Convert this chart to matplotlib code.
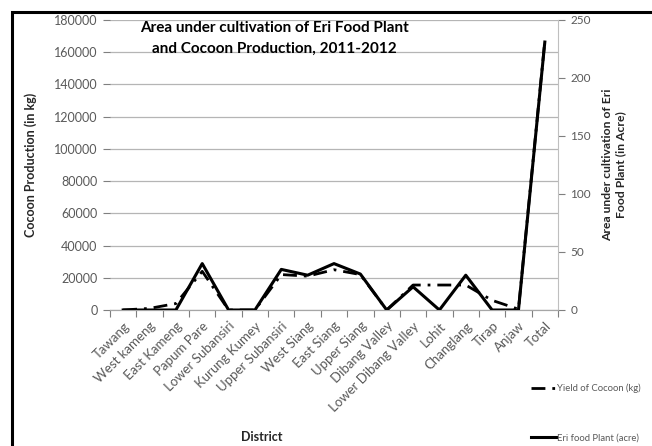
import matplotlib
matplotlib.use("Agg")
import matplotlib.pyplot as plt
import numpy as np
from matplotlib.patches import Rectangle

plt.rcParams['font.family'] = ['Lato', 'DejaVu Sans']

# --- data
districts = [
    "Tawang", "West kameng", "East Kameng", "Papum Pare", "Lower Subansiri",
    "Kurung Kumey", "Upper Subansiri", "West Siang", "East Siang", "Upper Siang",
    "Dibang Valley", "Lower Dibang Valley", "Lohit", "Changlang", "Tirap",
    "Anjaw", "Total",
]
cocoon_kg = [0, 1000, 4000, 24000, 0, 0, 22000, 21000, 25000, 22000,
             0, 15500, 15500, 15500, 6000, 500, 167000]
eri_acre = [0, 0, 0, 40, 0, 0, 35, 30, 40, 31, 0, 20, 0, 30, 0, 0, 231]

W, H, DPI = 652, 446, 100
fig = plt.figure(figsize=(W / DPI, H / DPI), dpi=DPI)
ax = fig.add_axes([110 / W, 1 - 310 / H, 448 / W, 290 / H])
ax2 = ax.twinx()

x = np.arange(len(districts))
tick_grey = "#7f7f7f"
text_grey = "#595959"

ax.plot(x, cocoon_kg, color="black", lw=2.0, ls=(0, (5, 2.5, 1, 2.5)),
        label="Yield of Cocoon (kg)", zorder=3)
ax2.plot(x, eri_acre, color="black", lw=2.2, label="Eri food Plant (acre)",
         zorder=4)

ax.set_xlim(-0.5, len(districts) - 0.5)
ax.set_ylim(0, 180000)
ax2.set_ylim(0, 250)
ax.set_yticks(np.arange(0, 180001, 20000))
ax2.set_yticks(np.arange(0, 251, 50))

ax.grid(axis="y", color="#b5b5b5", lw=0.9)
ax.set_axisbelow(True)

# category axis: labels at centres, tick marks at boundaries
ax.set_xticks(x)
ax.set_xticklabels(districts, rotation=45, ha="right", rotation_mode="anchor",
                   fontsize=9.5, color=text_grey)
ax.set_xticks(np.arange(-0.5, len(districts)), minor=True)
ax.tick_params(axis="x", which="major", length=0, pad=7)
ax.tick_params(axis="x", which="minor", length=5, color=tick_grey, width=0.8)

ax.tick_params(axis="y", length=5, color=tick_grey, labelsize=9,
               labelcolor=text_grey, pad=4)
ax2.tick_params(axis="y", length=5, color=tick_grey, labelsize=8.5,
                labelcolor=text_grey, pad=4)

for a in (ax, ax2):
    a.spines["top"].set_visible(False)
    a.spines["left"].set_visible(False)
    a.spines["bottom"].set_color("#a6a6a6")
    a.spines["right"].set_color("#bfbfbf")
ax.spines["right"].set_visible(False)

ax.set_ylabel("Cocoon Production (in kg)", fontsize=9, fontweight="bold",
              color="#262626", labelpad=12)
ax2.set_ylabel("Area under cultivation of Eri\nFood Plant (in Acre)",
               fontsize=8.7, fontweight="bold", color="#262626", labelpad=8)
fig.text(262 / W, 1 - 437 / H, "District", ha="center", va="center",
         fontsize=9, fontweight="bold", color="#262626")

ax.text(0.368, 0.995, "Area under cultivation of Eri Food Plant\n"
        "and Cocoon Production, 2011-2012", transform=ax.transAxes,
        ha="center", va="top", fontsize=11, fontweight="bold",
        linespacing=1.6, color="black")

h1, l1 = ax.get_legend_handles_labels()
h2, l2 = ax2.get_legend_handles_labels()
fig.legend(h1 + h2, l1 + l2, loc="center left",
           bbox_to_anchor=(522 / W, 1 - 413 / H), frameon=False, fontsize=6.8,
           labelspacing=4.2, handlelength=2.7, handletextpad=0.15,
           labelcolor=text_grey)

# black frame along the top and left edge of the picture
fig.patches.append(Rectangle((12 / W, -0.05), 1.0, 1.05 - 12 / H,
                             transform=fig.transFigure, fill=False,
                             edgecolor="black", lw=2.2))

fig.savefig("out.png", dpi=DPI)
